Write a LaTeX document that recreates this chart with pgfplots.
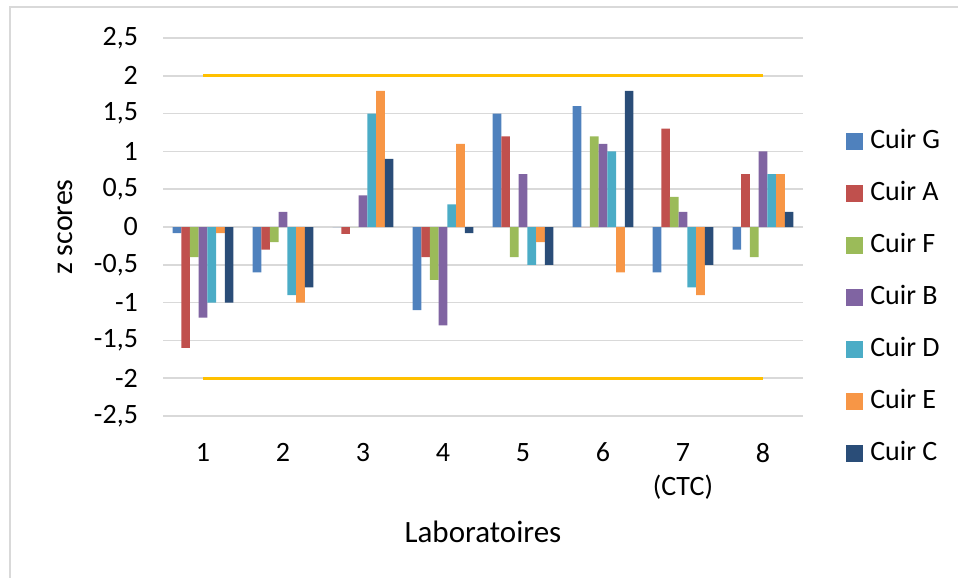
\documentclass[border=0pt]{standalone}
\usepackage{fontspec}
\setmainfont{Carlito}
\usepackage{pgfplots}
\usepackage{pgfplotstable}
\pgfplotsset{compat=1.18}

\definecolor{cG}{HTML}{4F81BD}
\definecolor{cA}{HTML}{C0504D}
\definecolor{cF}{HTML}{9BBB59}
\definecolor{cB}{HTML}{8064A2}
\definecolor{cD}{HTML}{4BACC6}
\definecolor{cE}{HTML}{F79646}
\definecolor{cC}{HTML}{2A4D78}
\definecolor{gold}{HTML}{FFC000}
\definecolor{gridgray}{HTML}{D9D9D9}

\pgfplotstableread{
lab G A F B D E C
1 -0.08 -1.6 -0.4 -1.2 -1.0 -0.08 -1.0
2 -0.6 -0.3 -0.2 0.2 -0.9 -1.0 -0.8
3 0 -0.09 0 0.42 1.5 1.8 0.9
4 -1.1 -0.4 -0.7 -1.3 0.3 1.1 -0.08
5 1.5 1.2 -0.4 0.7 -0.5 -0.2 -0.5
6 1.6 0 1.2 1.1 1.0 -0.6 1.8
7 -0.6 1.3 0.4 0.2 -0.8 -0.9 -0.5
8 -0.3 0.7 -0.4 1.0 0.7 0.7 0.2
}\zdata

\begin{document}
\begin{tikzpicture}
\useasboundingbox (0,0) rectangle (479pt,289pt);
% chart frame
\draw[gridgray, line width=0.75pt] (5pt,0) -- (5pt,285.5pt) -- (479pt,285.5pt);
\begin{axis}[
    at={(81.5pt,81pt)}, anchor=south west,
    scale only axis, width=320pt, height=189pt,
    ybar=0pt, bar width=4.35pt,
    xmin=0.5, xmax=8.5, ymin=-2.5, ymax=2.5,
    xtick={1,...,8},
    xticklabels={1,2,3,4,5,6,{7\\(CTC)},8},
    ytick={-2.5,-2,...,2.5},
    /pgf/number format/use comma,
    /pgf/number format/fixed,
    /pgf/number format/assume math mode=true,
    axis line style={draw=none},
    major tick length=0pt,
    ymajorgrids,
    grid style={gridgray, line width=0.75pt},
    font=\fontsize{14}{17}\selectfont,
    xticklabel style={align=center, anchor=north, yshift=-10pt},
    yticklabel style={xshift=-9pt},
    xlabel={Laboratoires},
    ylabel={z scores},
    xlabel style={at={(axis description cs:0.5,-0.307)}, anchor=center, font=\fontsize{15.5}{18}\selectfont},
    ylabel style={at={(axis description cs:-0.153,0.5)}, anchor=center, font=\fontsize{15}{18}\selectfont},
    legend style={at={(axis description cs:1.067,0.313)}, anchor=west,
        draw=none, fill=none, inner sep=0pt, row sep=13pt, column sep=3.5pt,
        font=\fontsize{14}{17}\selectfont,
        nodes={inner sep=0pt, text height=10pt, text depth=3pt}},
    legend cell align=left,
    legend image code/.code={\fill[#1] (0pt,-4.25pt) rectangle (8.5pt,4.25pt);},
]
\addplot[fill=cG, draw=none] table[x=lab, y=G] {\zdata};
\addplot[fill=cA, draw=none] table[x=lab, y=A] {\zdata};
\addplot[fill=cF, draw=none] table[x=lab, y=F] {\zdata};
\addplot[fill=cB, draw=none] table[x=lab, y=B] {\zdata};
\addplot[fill=cD, draw=none] table[x=lab, y=D] {\zdata};
\addplot[fill=cE, draw=none] table[x=lab, y=E] {\zdata};
\addplot[fill=cC, draw=none] table[x=lab, y=C] {\zdata};
\addplot[sharp plot, gold, line width=1.5pt, forget plot] coordinates {(1,2) (8,2)};
\addplot[sharp plot, gold, line width=1.5pt, forget plot] coordinates {(1,-2) (8,-2)};
\legend{Cuir G, Cuir A, Cuir F, Cuir B, Cuir D, Cuir E, Cuir C}
\end{axis}
\end{tikzpicture}
\end{document}
